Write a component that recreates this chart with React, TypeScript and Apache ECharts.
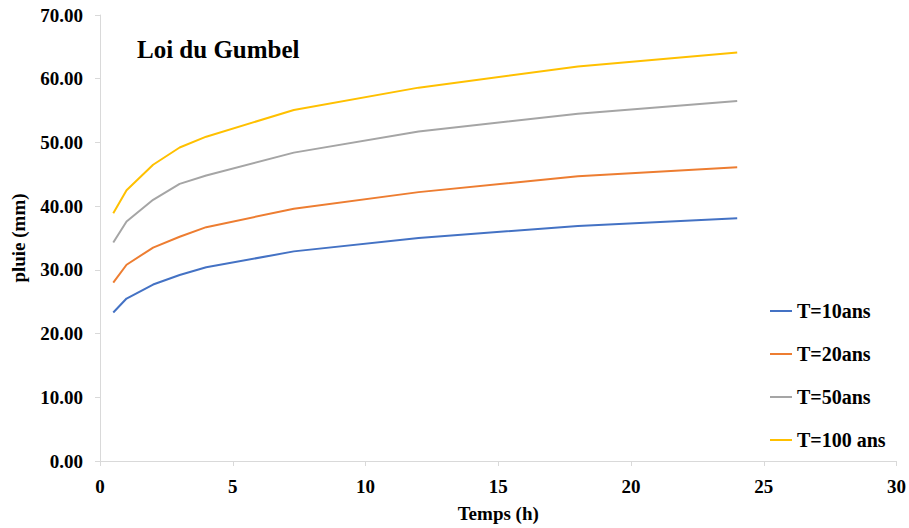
import React, { useEffect, useRef } from "react";
import * as echarts from "echarts";

const hours = [0.5, 1, 2, 3, 4, 7.3, 12, 18, 24];
const t10 = [23.3, 25.5, 27.7, 29.2, 30.4, 32.9, 35.0, 36.9, 38.1];
const t20 = [28.0, 30.8, 33.5, 35.2, 36.7, 39.6, 42.2, 44.7, 46.1];
const t50 = [34.3, 37.6, 41.0, 43.5, 44.8, 48.4, 51.7, 54.5, 56.5];
const t100 = [38.9, 42.5, 46.5, 49.2, 50.9, 55.1, 58.6, 61.9, 64.1];
const seriesNames = ["T=10ans", "T=20ans", "T=50ans", "T=100 ans"];
const colors = ["#4472C4", "#ED7D31", "#A5A5A5", "#FFC000"];

const FONT = "'Liberation Serif', 'Times New Roman', serif";

export default function App() {
  const ref = useRef<HTMLDivElement>(null);
  useEffect(() => {
    if (!ref.current) return;
    const chart = echarts.init(ref.current, undefined, { renderer: "svg" });
    const all = [t10, t20, t50, t100];
    chart.setOption({
      animation: false,
      color: colors,
      title: {
        text: "Loi du Gumbel",
        left: 132,
        top: 32,
        textStyle: { fontFamily: FONT, fontWeight: "bold", fontSize: 25, color: "#000" },
      },
      grid: { left: 100, right: 10, top: 15, bottom: 67, containLabel: false },
      legend: {
        orient: "vertical",
        left: 765,
        top: 296,
        itemGap: 23,
        itemWidth: 22,
        itemHeight: 2,
        icon: "rect",
        data: seriesNames,
        textStyle: { fontFamily: FONT, fontWeight: "bold", fontSize: 20, color: "#000" },
      },
      xAxis: {
        type: "value",
        min: 0,
        max: 30,
        interval: 5,
        name: "Temps (h)",
        nameLocation: "middle",
        nameGap: 43,
        nameTextStyle: { fontFamily: FONT, fontWeight: "bold", fontSize: 19, color: "#000" },
        axisLine: { show: true, lineStyle: { color: "#d9d9d9", width: 1 } },
        axisTick: { show: true, length: 5, lineStyle: { color: "#d9d9d9" } },
        axisLabel: { fontFamily: FONT, fontWeight: "bold", fontSize: 19, color: "#000", margin: 16 },
        splitLine: { show: false },
      },
      yAxis: {
        type: "value",
        min: 0,
        max: 70,
        interval: 10,
        name: "pluie (mm)",
        nameLocation: "middle",
        nameGap: 72,
        nameTextStyle: { fontFamily: FONT, fontWeight: "bold", fontSize: 19, color: "#000" },
        axisLine: { show: true, lineStyle: { color: "#d9d9d9", width: 1 } },
        axisTick: { show: true, length: 5, lineStyle: { color: "#d9d9d9" } },
        axisLabel: {
          fontFamily: FONT,
          fontWeight: "bold",
          fontSize: 19,
          color: "#000",
          margin: 17,
          formatter: (v: number) => v.toFixed(2),
        },
        splitLine: { show: false },
      },
      series: seriesNames.map((name, i) => ({
        name,
        type: "line",
        showSymbol: false,
        symbol: "none",
        lineStyle: { width: 2, color: colors[i] },
        data: hours.map((h, j) => [h, all[i][j]]),
      })),
    });
    return () => chart.dispose();
  }, []);
  return <div ref={ref} style={{ width: 909, height: 528, position: "absolute", left: 0, top: 0 }} />;
}
